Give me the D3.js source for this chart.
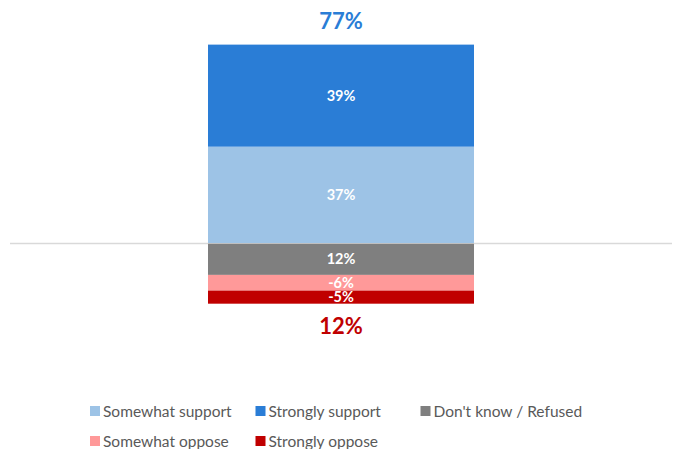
<!DOCTYPE html>
<html>
<head>
<meta charset="utf-8">
<script src="https://cdn.jsdelivr.net/npm/d3@7/dist/d3.min.js"></script>
<style>
  html, body { margin: 0; padding: 0; background: #fff; }
  svg { display: block; font-family: Lato, "Open Sans", sans-serif; }
</style>
</head>
<body>
<svg id="chart" width="673" height="449"></svg>
<script>
// Series, in stacking order away from the zero line
const supportSeries = ["Somewhat support", "Strongly support"];
const supportValues = [37, 39];
const belowSeries = ["Don't know / Refused", "Somewhat oppose", "Strongly oppose"];
const belowValues = [12, -6, -5];
const seriesColors = ["#9DC3E6", "#2A7DD6", "#7F7F7F", "#FF9999", "#C00000"];
// Net totals shown above and below the bar
const totalSupport = 77;
const totalOppose = 12;
// Legend order
const legendRows = [
  ["Somewhat support", "Strongly support", "Don't know / Refused"],
  ["Somewhat oppose", "Strongly oppose"]
];

const svg = d3.select("#chart");
const colorOf = d3.scaleOrdinal()
  .domain(supportSeries.concat(belowSeries))
  .range(seriesColors);

// Zero sits on the baseline; positive values grow upward
const y = d3.scaleLinear().domain([0, 77]).range([243.5, 42]);

const x = d3.scaleBand().domain(["all"]).range([75, 607]).paddingInner(0).paddingOuter(0.5);

// Build stacked segments: support upward, the rest downward
const segs = [];
let acc = 0;
supportSeries.forEach((s, i) => {
  const v = supportValues[i];
  segs.push({ name: s, label: v, y0: acc, y1: acc + v });
  acc += v;
});
acc = 0;
belowSeries.forEach((s, i) => {
  const v = belowValues[i];
  const mag = Math.abs(v);
  segs.push({ name: s, label: v, y0: acc, y1: acc - mag });
  acc -= mag;
});
const bottomEdge = acc;

// Zero line
svg.append("line")
  .attr("x1", 10).attr("x2", 672)
  .attr("y1", y(0)).attr("y2", y(0))
  .attr("stroke", "#D9D9D9").attr("stroke-width", 1.5);

const bx = x("all"), bw = x.bandwidth();

svg.append("g").selectAll("rect").data(segs).join("rect")
  .attr("x", bx).attr("width", bw)
  .attr("y", d => y(Math.max(d.y0, d.y1)))
  .attr("height", d => Math.abs(y(d.y0) - y(d.y1)))
  .attr("fill", d => colorOf(d.name));

// Thin line where the bar crosses zero
svg.append("line")
  .attr("x1", bx).attr("x2", bx + bw)
  .attr("y1", y(0)).attr("y2", y(0))
  .attr("stroke", "#BFBFBF").attr("stroke-width", 1);

svg.append("g").selectAll("text").data(segs).join("text")
  .attr("x", bx + bw / 2)
  .attr("y", d => y((d.y0 + d.y1) / 2))
  .attr("dy", "0.36em")
  .attr("text-anchor", "middle")
  .attr("fill", "#fff")
  .attr("font-weight", 700)
  .attr("font-size", 14.5)
  .text(d => d.label + "%");

// Totals
svg.append("text")
  .attr("x", bx + bw / 2).attr("y", y(totalSupport) - 21)
  .attr("dy", "0.36em").attr("text-anchor", "middle")
  .attr("fill", "#2A7DD6").attr("font-weight", 700).attr("font-size", 22)
  .text(totalSupport + "%");

svg.append("text")
  .attr("x", bx + bw / 2).attr("y", y(bottomEdge) + 22)
  .attr("dy", "0.36em").attr("text-anchor", "middle")
  .attr("fill", "#C00000").attr("font-weight", 700).attr("font-size", 22)
  .text(totalOppose + "%");

// Legend
const colX = [90, 255.5, 420.5];
const rowY = [411, 441];
const legend = svg.append("g");
legendRows.forEach((row, r) => {
  row.forEach((name, c) => {
    const g = legend.append("g").attr("transform", `translate(${colX[c]},${rowY[r]})`);
    g.append("rect").attr("x", 0).attr("y", -5).attr("width", 10).attr("height", 10)
      .attr("fill", colorOf(name));
    g.append("text").attr("x", 13).attr("y", 0).attr("dy", "0.36em")
      .attr("fill", "#595959").attr("font-size", 15.5).text(name);
  });
});
</script>
</body>
</html>
